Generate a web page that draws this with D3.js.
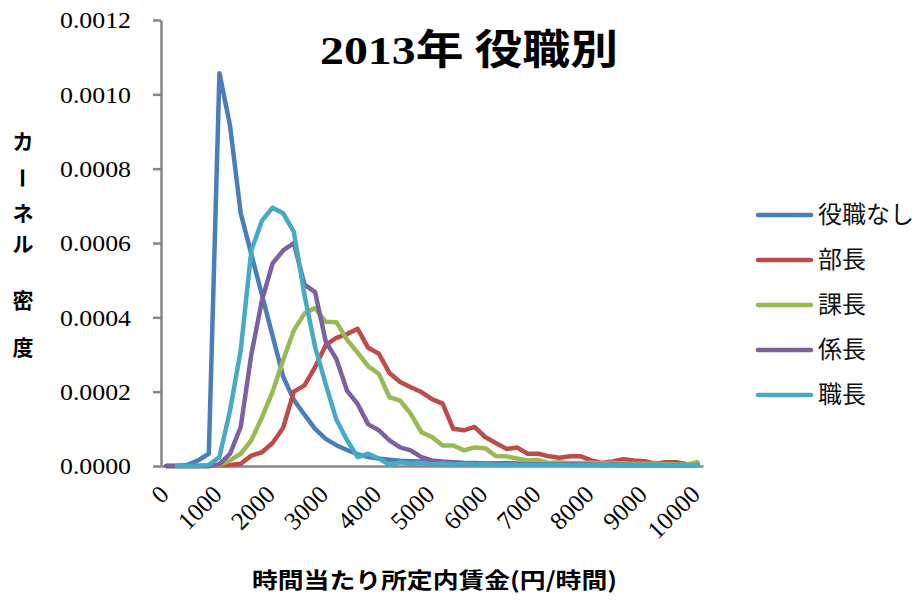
<!DOCTYPE html>
<html><head><meta charset="utf-8">
<script src="https://cdn.jsdelivr.net/npm/d3@7/dist/d3.min.js"></script>
<style>body{margin:0;background:#fff}</style>
</head><body>
<svg id="c" width="922" height="602"></svg>
<script>
// ---------- data ----------
const categories = [0,200,400,600,800,1000,1200,1400,1600,1800,2000,2200,2400,2600,2800,3000,3200,3400,3600,3800,4000,4200,4400,4600,4800,5000,5200,5400,5600,5800,6000,6200,6400,6600,6800,7000,7200,7400,7600,7800,8000,8200,8400,8600,8800,9000,9200,9400,9600,9800,10000];
const xTickLabels = [0,1000,2000,3000,4000,5000,6000,7000,8000,9000,10000];
const yTicks = [0,0.0002,0.0004,0.0006,0.0008,0.0010,0.0012];
const seriesNames = ["役職なし","部長","課長","係長","職長"];
const seriesColors = ["#4A7EBB","#BE4B48","#98B954","#7D60A0","#46AAC5"];

const noPost = [0,0,0.000003,0.000015,0.000033,0.001057,0.000915,0.00068,0.00057,0.00046,0.00035,0.00024,0.000178,0.000138,0.0001,0.000073,0.000056,0.000043,0.000032,0.000024,0.00002,0.000017,0.000014,0.000013,0.000012,0.00001,0.000009,0.000009,0.000008,0.000008,0.000007,0.000007,0.000006,0.000006,0.000006,0.000005,0.000005,0.000005,0.000005,0.000004,0.000004,0.000004,0.000004,0.000004,0.000003,0.000003,0.000003,0.000003,0.000003,0.000003,0.000003];
const bucho = [0,0,0,0,0,0.000002,0.000003,0.000006,0.000028,0.000037,0.000062,0.000103,0.0002,0.000217,0.000266,0.000325,0.000345,0.000355,0.000369,0.000318,0.000302,0.00025,0.000226,0.000212,0.000199,0.00018,0.000168,0.0001,0.000096,0.000105,0.000078,0.000062,0.000046,0.00005,0.000033,0.000033,0.000026,0.000022,0.000026,0.000026,0.000015,0.000008,0.000012,0.000018,0.000015,0.000013,0.000006,0.00001,0.00001,0.000005,0.000003];
const kacho = [0,0,0,0,0,0.000003,0.000015,0.000033,0.000069,0.000131,0.0002,0.000285,0.000365,0.00041,0.000425,0.000388,0.000387,0.00034,0.000305,0.000268,0.000248,0.000185,0.000176,0.00014,0.000091,0.000078,0.000055,0.000055,0.000042,0.00005,0.000048,0.000027,0.000026,0.00002,0.000015,0.000016,0.000008,0.00001,0.000008,0.000008,0.000009,0.000007,0.000008,0.000007,0.000006,0.000006,0.000006,0.000005,0.000004,0.000004,0.00001];
const kakaricho = [0,0,0,0,0,0.000005,0.000033,0.000105,0.0003,0.000446,0.000545,0.00058,0.0006,0.000488,0.000468,0.000335,0.000288,0.000203,0.000167,0.000112,0.000096,0.000069,0.00005,0.000042,0.000024,0.000015,0.000012,0.00001,0.000008,0.000007,0.000006,0.000006,0.000008,0.000006,0.000004,0.000005,0.000004,0.000004,0.000005,0.000004,0.000004,0.000003,0.000004,0.000003,0.000003,0.000003,0.000003,0.000002,0.000002,0.000002,0.000002];
const shokucho = [null,0,0,0,0.000003,0.000024,0.00015,0.000311,0.00058,0.00066,0.000695,0.00068,0.00063,0.00046,0.00032,0.00022,0.000125,0.00007,0.000024,0.000033,0.00002,0.000003,0.00001,0.000006,0.000008,0.000005,0.000007,0.000004,0.000006,0.000004,0.000005,0.000003,0.000004,0.000003,0.000003,0.000003,0.000004,0.000003,0.000003,0.000002,0.000003,0.000002,0.000002,0.000002,0.000002,0.000002,0.000002,0.000002,0.000002,0.000002,0.000002];
const seriesValues = [noPost, bucho, kacho, kakaricho, shokucho];

// ---------- chart ----------
const svg = d3.select("#c");
const axisColor = "#868686";
const serif = "'Liberation Serif', 'Times New Roman', serif";
const gothic = "'Noto Sans CJK JP', sans-serif";
const x = d3.scaleBand().domain(categories).range([161, 703]).padding(0);
const bw = x.bandwidth();
const y = d3.scaleLinear().domain([0, 0.0012]).range([466, 20]);

// y axis
const yAxis = svg.append("g").attr("transform", "translate(161,0)")
  .call(d3.axisLeft(y).tickValues(yTicks).tickFormat(d3.format(".4f")).tickSize(8).tickSizeOuter(0).tickPadding(22));
yAxis.attr("font-family", serif);
yAxis.select(".domain").attr("stroke", axisColor).attr("stroke-width", 2.5);
yAxis.selectAll(".tick line").attr("stroke", axisColor).attr("stroke-width", 2.5);
yAxis.selectAll(".tick text").attr("fill", "#000")
  .attr("font-family", serif).attr("font-size", 24)
  .attr("textLength", 71).attr("lengthAdjust", "spacingAndGlyphs");

// x axis
const xAxis = svg.append("g").attr("transform", `translate(0,${y(0)})`)
  .call(d3.axisBottom(x).tickValues(xTickLabels).tickSize(0).tickSizeOuter(0));
xAxis.attr("font-family", serif);
xAxis.select(".domain").attr("stroke", axisColor).attr("stroke-width", 2.5);
xAxis.selectAll(".tick text").attr("fill", "#000")
  .attr("x", 0).attr("y", 0).attr("dy", 0)
  .attr("text-anchor", "end")
  .attr("transform", "translate(4,30) rotate(-45)")
  .attr("font-family", serif).attr("font-size", 25);

// lines
const line = d3.line()
  .defined(d => d[1] != null)
  .x(d => x(d[0]) + bw / 2)
  .y(d => y(d[1]));
seriesValues.forEach((vals, k) => {
  svg.append("path")
    .datum(categories.map((c, i) => [c, vals[i]]))
    .attr("fill", "none")
    .attr("stroke", seriesColors[k])
    .attr("stroke-width", 4.5)
    .attr("stroke-linejoin", "round")
    .attr("stroke-linecap", "round")
    .attr("d", line);
});

// legend
const lg = svg.append("g");
seriesNames.forEach((name, k) => {
  const ly = 215 + k * 45;
  lg.append("line").attr("x1", 758).attr("x2", 811).attr("y1", ly).attr("y2", ly)
    .attr("stroke", seriesColors[k]).attr("stroke-width", 4.5).attr("stroke-linecap", "round");
  lg.append("text").attr("x", 818).attr("y", ly).attr("dy", "0.35em")
    .style("font-family", gothic).style("font-size", "24px")
    .attr("fill", "#111").text(name);
});

// title
const t = svg.append("text").attr("x", 320).attr("y", 64)
  .attr("textLength", 298).attr("lengthAdjust", "spacingAndGlyphs")
  .style("font-weight", "bold").style("font-size", "41px").attr("fill", "#000");
t.append("tspan").style("font-family", serif).text("2013");
t.append("tspan").style("font-family", gothic).text("年 役職別");

// x axis title
svg.append("text").attr("x", 252).attr("y", 588)
  .attr("textLength", 365).attr("lengthAdjust", "spacingAndGlyphs")
  .style("font-family", gothic).style("font-weight", "bold").style("font-size", "22px")
  .attr("fill", "#000").text("時間当たり所定内賃金(円/時間)");

// y axis title (vertical)
const yTitleChars = ["カ","ー","ネ","ル","密","度"];
const yTitlePos = [141,178,213,244,300,347];
yTitleChars.forEach((ch, i) => {
  svg.append("text")
    .attr("transform", `translate(23,${yTitlePos[i]})` + (ch === "ー" ? " rotate(90)" : ""))
    .attr("text-anchor", "middle").attr("dy", "0.36em")
    .style("font-family", gothic).style("font-weight", "bold").style("font-size", "21px")
    .attr("fill", "#000").text(ch);
});
</script>
</body></html>
